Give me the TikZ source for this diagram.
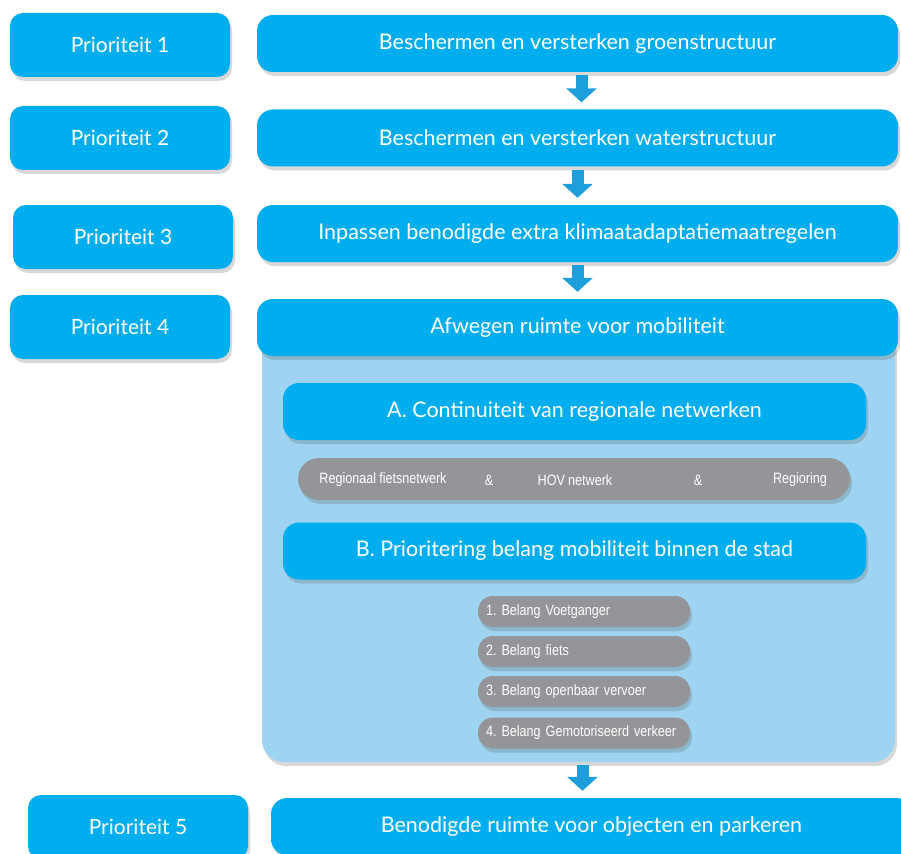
\documentclass[tikz,border=0pt]{standalone}
\usepackage{fontspec}
\setmainfont{Lato}
\newfontfamily\narrowfont[FakeStretch=0.84, WordSpace=0.9]{Liberation Sans}
\usepackage{tikz}
\usetikzlibrary{shapes.geometric, arrows.meta, positioning, shadows}
\definecolor{prioBlue}{HTML}{00AEEF}
\definecolor{panelBlue}{HTML}{9ED4F1}
\definecolor{pillGray}{HTML}{939598}
\definecolor{flowBlue}{HTML}{1E9FDB}
\tikzset{
    shade/.style={drop shadow={shadow xshift=2pt, shadow yshift=-4pt, opacity=0.22, fill=black!70}},
    prio/.style={rectangle, rounded corners=13pt, fill=prioBlue, text=white, minimum width=220pt, minimum height=64pt, text centered, font=\fontsize{21}{24}\selectfont, shade},
    stage/.style={rectangle, rounded corners=16pt, fill=prioBlue, text=white, minimum width=641pt, minimum height=57pt, text centered, font=\fontsize{21.5}{24}\selectfont, shade},
    substage/.style={stage, minimum width=583pt},
    panel/.style={rectangle, rounded corners=22pt, fill=panelBlue, minimum width=633pt, minimum height=432pt, shade},
    bar/.style={rectangle, rounded corners=21pt, fill=pillGray, minimum width=552pt, minimum height=42pt, shade},
    pill/.style={rectangle, rounded corners=15pt, fill=pillGray, text=white, minimum width=212pt, minimum height=31pt, text width=196pt, align=left, font=\narrowfont\fontsize{15}{17}\selectfont\frenchspacing, shade},
    bartext/.style={text=white, font=\narrowfont\fontsize{15}{17}\selectfont},
    flow/.style={flowBlue, line width=12pt, -{Triangle[width=30pt, length=14pt]}, shorten <=3pt, shorten >=7pt}
}
\begin{document}
\begin{tikzpicture}[x=1pt, y=-1pt]
    \clip (0,0) rectangle (901,853);
    % Nodes
    \node (prioOne) [prio] at (120,45) {Prioriteit 1};
    \node (stageGreen) [stage] at (577.5,43.5) {Beschermen en versterken groenstructuur};
    \node (prioTwo) [prio] at (120,138) {Prioriteit 2};
    \node (stageWater) [stage] at (577.5,138) {Beschermen en versterken waterstructuur};
    \node (prioThree) [prio] at (123,237) {Prioriteit 3};
    \node (stageClimate) [stage] at (577.5,233.5) {Inpassen benodigde extra klimaatadaptatiemaatregelen};
    \node (prioFour) [prio] at (120,327) {Prioriteit 4};
    \node (mobPanel) [panel] at (578.5,546) {};
    \node (stageMobility) [stage] at (577.5,327.5) {Afwegen ruimte voor mobiliteit};
    \node (subA) [substage] at (574.5,411.5) {A. Continuiteit van regionale netwerken};
    \node (netBar) [bar] at (574,479) {};
    \node (netBike) [bartext] at (383,480) {Regionaal fietsnetwerk};
    \node (ampOne) [bartext] at (489,480) {\&};
    \node (netHov) [bartext] at (575,480) {HOV netwerk};
    \node (ampTwo) [bartext] at (698,480) {\&};
    \node (netRing) [bartext] at (800,480) {Regioring};
    \node (subB) [substage] at (574.5,551) {B. Prioritering belang mobiliteit binnen de stad};
    \node (walk) [pill] at (584,611.5) {1. Belang Voetganger};
    \node (bike) [pill] at (584,651.5) {2. Belang fiets};
    \node (transit) [pill] at (584,691.5) {3. Belang openbaar vervoer};
    \node (cars) [pill] at (584,733) {4. Belang Gemotoriseerd verkeer};
    \node (prioFive) [prio] at (138,827) {Prioriteit 5};
    \node (stageParking) [stage] at (591.5,826.5) {Benodigde ruimte voor objecten en parkeren};
    % Arrows
    \draw [flow] ([xshift=4pt]stageGreen.south) -- ([xshift=4pt]stageWater.north);
    \draw [flow] (stageWater.south) -- (stageClimate.north);
    \draw [flow] (stageClimate.south) -- (stageMobility.north);
    \draw [flow] ([xshift=4pt]mobPanel.south) -- ([xshift=4pt]mobPanel.south |- stageParking.north);
\end{tikzpicture}
\end{document}
